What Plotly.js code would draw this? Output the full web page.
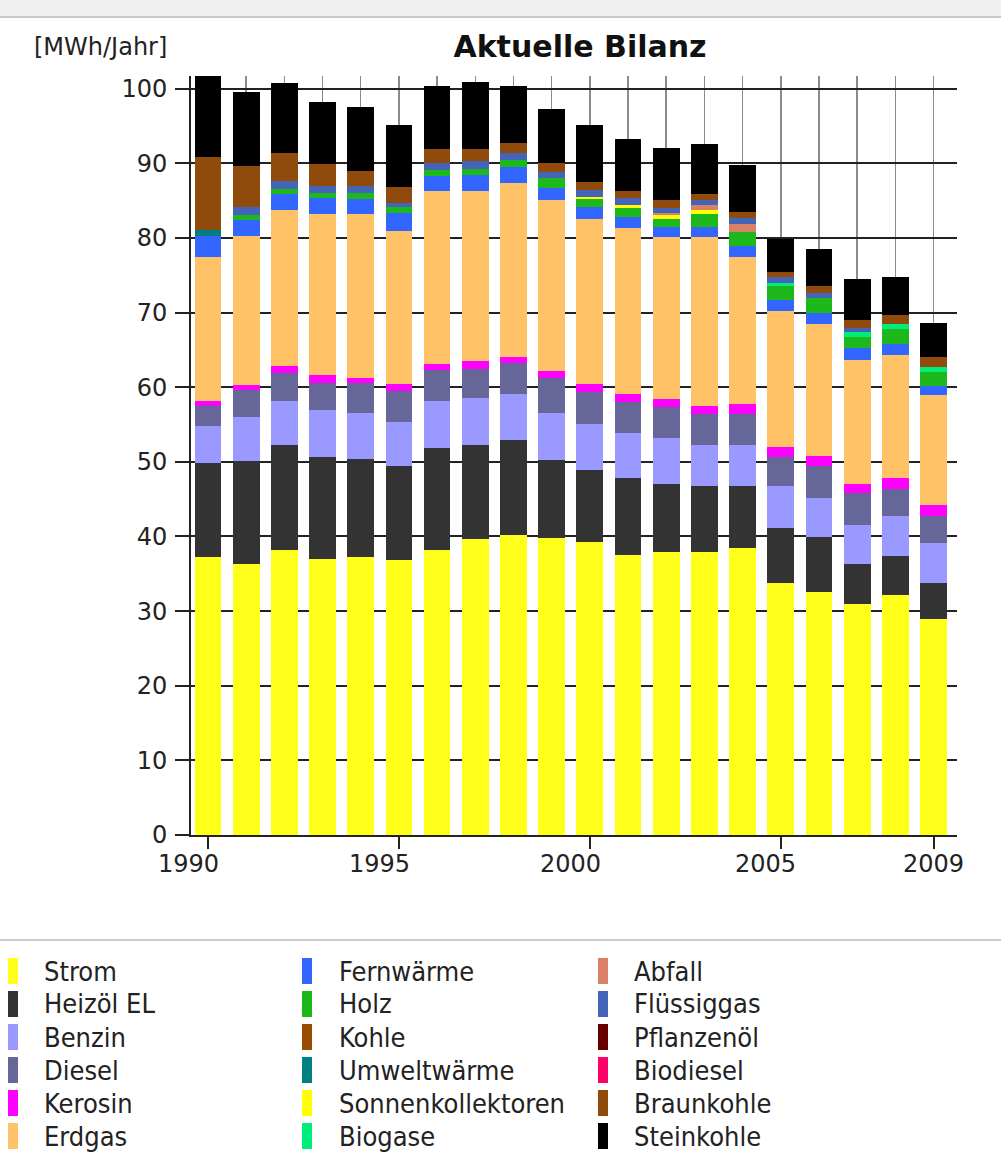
<!DOCTYPE html>
<html>
<head>
<meta charset="utf-8">
<script src="https://cdn.plot.ly/plotly-3.0.1.min.js"></script>
<style>
html,body{margin:0;padding:0;background:#fff;}
#chart{width:1001px;height:1158px;}
</style>
</head>
<body>
<div id="chart"></div>
<script>
// ---- data (MWh/Jahr) ----
const years = [1990,1991,1992,1993,1994,1995,1996,1997,1998,1999,2000,2001,2002,2003,2004,2005,2006,2007,2008,2009];
const labelYears = ['1990','1995','2000','2005','2009'];
const labelPos = [1989.5,1994.5,1999.5,2004.6,2009];
const tickYears = [1990,1995,2000,2005,2009];

const strom      = [37.3,36.3,38.2,37.0,37.3,36.8,38.2,39.6,40.2,39.8,39.3,37.5,37.9,37.9,38.5,33.8,32.6,31.0,32.2,28.9];
const heizoel    = [12.5,13.8,14.1,13.7,13.1,12.6,13.7,12.6,12.7,10.5,9.6,10.4,9.1,8.8,8.2,7.4,7.3,5.3,5.2,4.8];
const benzin     = [5.0,5.9,5.9,6.2,6.2,6.0,6.2,6.3,6.2,6.3,6.2,5.9,6.2,5.5,5.5,5.55,5.3,5.2,5.3,5.4];
const diesel     = [2.7,3.6,3.7,3.7,3.9,4.1,4.2,3.9,4.1,4.6,4.3,4.2,4.2,4.15,4.2,3.95,4.3,4.3,3.7,3.7];
const kerosin    = [0.7,0.7,1.0,1.0,0.8,0.9,0.75,1.1,0.9,1.0,1.0,1.1,1.05,1.15,1.4,1.3,1.3,1.2,1.5,1.4];
const erdgas     = [19.2,20.0,20.8,21.6,21.9,20.5,23.2,22.8,23.3,22.9,22.1,22.2,21.65,22.65,19.6,18.2,17.7,16.7,16.4,14.8];
const fernwaerme = [2.8,2.1,2.2,2.2,2.0,2.5,2.1,2.1,2.1,1.6,1.6,1.5,1.4,1.35,1.5,1.5,1.5,1.5,1.55,1.1];
const holz       = [0,0.7,0.7,0.6,0.8,0.7,0.75,0.8,0.9,1.3,1.1,1.2,1.1,1.7,1.9,1.8,1.9,1.55,1.9,2.0];
const kohle      = [0,0,0,0,0,0,0,0,0,0,0,0,0,0,0,0,0,0,0,0];
const umwelt     = [0.8,0,0,0,0,0,0,0,0,0,0,0,0,0,0,0,0,0,0,0];
const sonnen     = [0,0,0,0,0,0,0,0,0,0,0.3,0.35,0.45,0.55,0,0,0,0,0,0];
const biogase    = [0,0,0,0,0,0,0,0,0,0,0,0,0,0,0,0.45,0,0.6,0.7,0.65];
const abfall     = [0,0,0,0,0,0,0,0,0,0,0,0,0.3,0.65,1.1,0,0,0,0,0];
const fluessig   = [0,1.1,1.0,0.9,0.9,0.6,1.0,1.1,1.0,0.9,0.9,1.05,0.7,0.75,0.8,0.8,0.75,0.55,0,0];
const pflanzen   = [0,0,0,0,0,0,0,0,0,0,0,0,0,0,0,0,0,0,0,0];
const biodiesel  = [0,0,0,0,0,0,0,0,0,0,0,0,0,0,0,0,0,0,0,0];
const braunkohle = [9.9,5.4,3.8,3.0,2.1,2.1,1.8,1.6,1.3,1.1,1.1,0.9,1.0,0.8,0.8,0.75,0.95,1.1,1.2,1.35];
const steinkohle = [10.8,9.9,9.3,8.3,8.6,8.3,8.4,9.0,7.6,7.3,7.7,7.0,7.0,6.7,6.3,4.4,4.9,5.5,5.1,4.5];

const seriesNames = ['Strom','Heizöl EL','Benzin','Diesel','Kerosin','Erdgas',
  'Fernwärme','Holz','Kohle','Umweltwärme','Sonnenkollektoren','Biogase',
  'Abfall','Flüssiggas','Pflanzenöl','Biodiesel','Braunkohle','Steinkohle'];
const seriesValues = [strom,heizoel,benzin,diesel,kerosin,erdgas,
  fernwaerme,holz,kohle,umwelt,sonnen,biogase,
  abfall,fluessig,pflanzen,biodiesel,braunkohle,steinkohle];
const seriesColors = ['#ffff1a','#333333','#9999ff','#666699','#ff00ff','#ffc266',
  '#3366ff','#1cb81c','#994c00','#008080','#ffff00','#00ee77',
  '#d98066','#4464b8','#660000','#ff0066','#8f4a0c','#000000'];

// ---- pixel helpers for layout (plot area 191..957 x, 76..835 y) ----
const PL = 191, PR = 957, PT = 76, PB = 835;
const px = x => (x - PL) / (PR - PL);
const py = y => (PB - y) / (PB - PT);
const xRange = [1989.555, 2009.615];
const xToPaper = v => (v - xRange[0]) / (xRange[1] - xRange[0]);

const traces = seriesNames.map((n, i) => ({
  type: 'bar', name: n, x: years, y: seriesValues[i],
  marker: {color: seriesColors[i], line: {width: 0}},
  showlegend: false, hoverinfo: 'name+y'
}));

const tickFont = {family: 'DejaVu Sans, Verdana, sans-serif', size: 24, color: '#222'};
const legFont = {family: 'DejaVu Sans Condensed, Liberation Sans Narrow, DejaVu Sans, sans-serif', size: 27, color: '#222'};

const shapes = [
  {type:'rect', xref:'paper', yref:'paper', x0: px(0), x1: px(1001), y0: py(17), y1: py(0), fillcolor:'#efefef', line:{width:0}, layer:'below'},
  {type:'line', xref:'paper', yref:'paper', x0: px(0), x1: px(1001), y0: py(17), y1: py(17), line:{color:'#c8c8c8', width:2}},
  {type:'line', xref:'paper', yref:'paper', x0: px(0), x1: px(1001), y0: py(940), y1: py(940), line:{color:'#cccccc', width:2}}
];
const annotations = [
  {xref:'paper', yref:'paper', x: px(32), y: py(47), xanchor:'left', yanchor:'middle', showarrow:false,
   text:'[MWh/Jahr]', font:{family:'DejaVu Sans, sans-serif', size:24, color:'#222'}}
];
// x-axis year labels (offset from the tick marks as in the reference)
labelYears.forEach((t, i) => {
  annotations.push({xref:'paper', yref:'paper', x: xToPaper(labelPos[i]), y: py(864), xanchor:'center', yanchor:'middle',
    showarrow:false, text: t, font: tickFont});
});
const colTextX = [42, 337, 632];
const colSwX = [8, 302, 598];
const rowY = [971, 1004, 1037, 1070, 1103, 1136];
seriesNames.forEach((n, i) => {
  const c = Math.floor(i / 6), r = i % 6;
  shapes.push({type:'rect', xref:'paper', yref:'paper',
    x0: px(colSwX[c]), x1: px(colSwX[c] + 10), y0: py(rowY[r] + 13), y1: py(rowY[r] - 13),
    fillcolor: seriesColors[i], line:{width:0}});
  annotations.push({xref:'paper', yref:'paper', x: px(colTextX[c]), y: py(rowY[r]), xanchor:'left', yanchor:'middle',
    showarrow:false, text: n, font: legFont});
});

const layout = {
  width: 1001, height: 1158,
  margin: {l: PL, r: 1001 - PR, t: PT, b: 1158 - PB, pad: 0},
  paper_bgcolor: '#ffffff', plot_bgcolor: '#ffffff',
  barmode: 'stack', bargap: 0.3,
  showlegend: false,
  title: {text: 'Aktuelle Bilanz', x: 580/1001, xref: 'container', xanchor: 'center',
          y: 1 - 46/1158, yref: 'container', yanchor: 'middle',
          font: {family: 'DejaVu Sans, sans-serif', size: 30, color: '#111', weight: 'bold'}},
  xaxis: {range: xRange, tickvals: tickYears, ticktext: ['', '', '', '', ''],
          ticks: 'outside', ticklen: 12, tickwidth: 2, tickcolor: '#222',
          showline: true, linecolor: '#222', linewidth: 2,
          showgrid: true, gridcolor: '#8c8c8c', gridwidth: 1.5,
          minor: {dtick: 1, tick0: 1990, showgrid: true, gridcolor: '#8c8c8c', gridwidth: 1.5, ticks: ''},
          zeroline: false, fixedrange: true},
  yaxis: {range: [0, 101.7], tickvals: [0,10,20,30,40,50,60,70,80,90,100], tickfont: tickFont,
          ticks: 'outside', ticklen: 14, tickwidth: 2, tickcolor: '#222', ticklabelstandoff: 3,
          showline: true, linecolor: '#222', linewidth: 2,
          showgrid: true, gridcolor: '#222', gridwidth: 2, zeroline: false, fixedrange: true},
  shapes: shapes,
  annotations: annotations
};

Plotly.newPlot('chart', traces, layout, {displayModeBar: false, staticPlot: true});
</script>
</body>
</html>
